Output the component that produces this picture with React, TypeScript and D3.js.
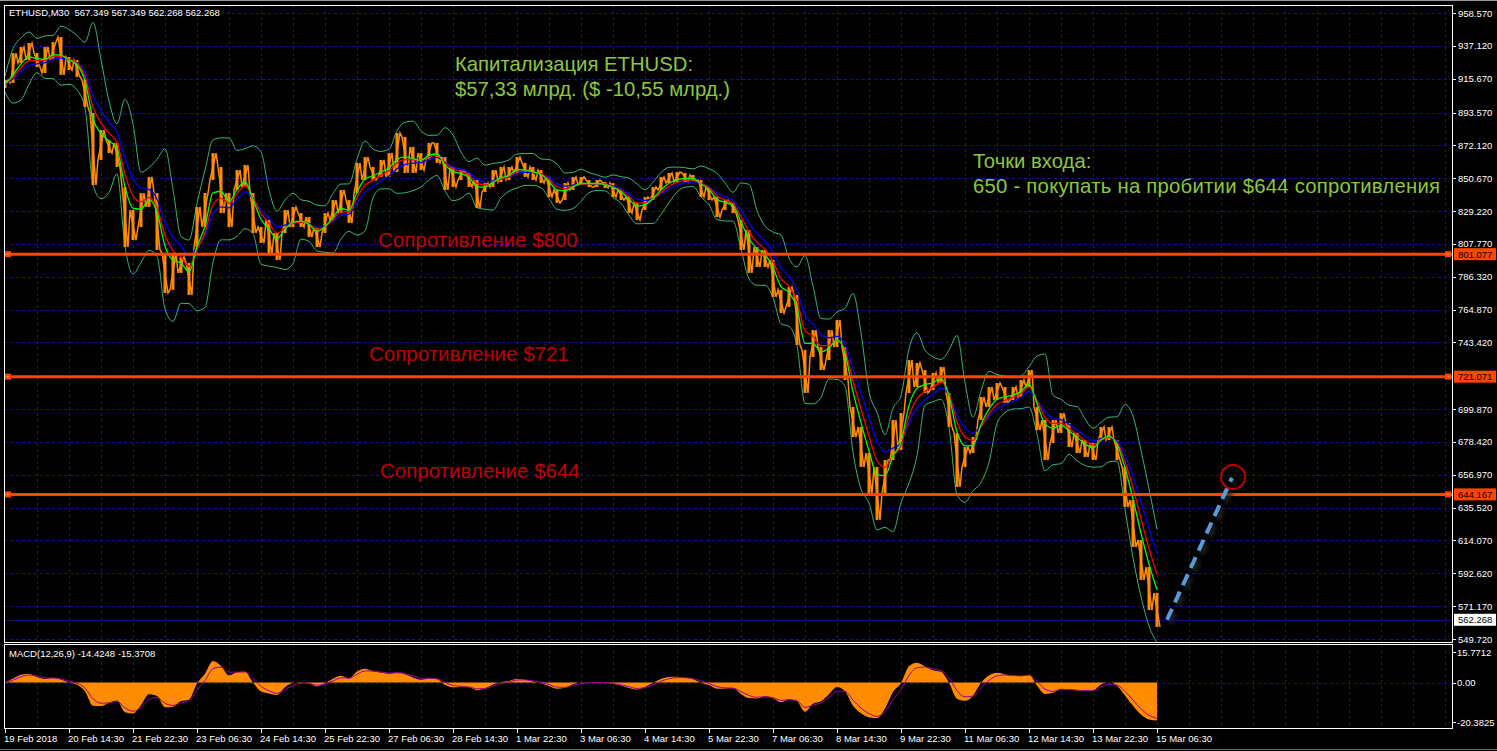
import React from 'react';
import * as d3 from 'd3';

const W = 1497;
const H = 751;

// ETHUSD M30 price ranges, one entry per 8 bars (high / low)
const hiPrices = [
  914.8, 932.4, 936.4, 939.0, 932.4, 936.4, 939.6, 942.9, 929.8, 927.9,
  914.8, 893.3, 882.2, 875.6, 873.7, 844.9, 829.9, 841.0, 851.5, 841.0,
  801.8, 801.8, 799.2, 795.3, 831.9, 841.0, 867.1, 858.0, 841.0, 856.0,
  859.3, 841.0, 818.8, 823.4, 814.9, 829.9, 831.9, 827.9, 825.3, 818.8,
  827.9, 836.4, 843.0, 836.4, 860.6, 864.5, 858.0, 862.6, 867.1, 880.2,
  877.6, 871.1, 867.1, 873.7, 873.7, 864.5, 858.0, 856.0, 854.1, 849.5,
  847.5, 856.0, 858.0, 858.0, 864.5, 860.6, 858.0, 856.0, 851.5, 843.0,
  847.5, 851.5, 851.5, 849.5, 849.5, 848.2, 847.5, 843.0, 838.4, 834.5,
  838.4, 844.9, 851.5, 854.1, 854.7, 854.1, 852.8, 849.5, 844.9, 838.4,
  836.4, 834.5, 823.4, 816.8, 805.7, 803.8, 797.3, 777.7, 779.6, 774.4,
  738.5, 751.5, 740.4, 751.5, 758.1, 740.4, 701.3, 688.2, 671.2, 662.1,
  666.6, 692.8, 697.3, 731.9, 730.0, 725.4, 723.5, 727.4, 710.4, 684.3,
  675.1, 681.7, 707.8, 714.3, 716.9, 714.3, 714.3, 718.9, 725.4, 701.3,
  692.8, 692.8, 697.3, 690.8, 684.3, 679.7, 677.7, 688.2, 688.2, 679.7,
  662.1, 640.5, 614.4, 596.7, 579.8,
];
const loPrices = [
  909.6, 912.9, 925.9, 927.9, 923.3, 919.4, 927.9, 918.1, 921.3, 916.8,
  897.2, 846.2, 862.6, 867.1, 858.0, 805.7, 810.3, 818.8, 831.9, 803.8,
  775.7, 777.7, 788.8, 774.4, 805.7, 818.8, 849.5, 827.9, 818.8, 843.0,
  844.9, 814.9, 808.4, 801.8, 797.3, 814.9, 818.8, 818.8, 812.3, 805.7,
  814.9, 823.4, 827.9, 821.4, 841.0, 849.5, 849.5, 851.5, 851.5, 854.7,
  854.1, 854.1, 856.0, 862.6, 860.6, 843.0, 844.9, 849.5, 844.9, 831.2,
  841.7, 844.9, 848.2, 849.5, 854.1, 851.5, 849.5, 847.5, 838.4, 834.5,
  836.4, 843.0, 846.2, 844.9, 844.9, 844.3, 838.4, 836.4, 827.9, 823.4,
  829.9, 836.4, 843.0, 847.5, 848.2, 848.2, 848.2, 838.4, 836.4, 825.3,
  829.9, 827.9, 803.8, 788.8, 792.7, 792.7, 773.1, 762.6, 766.6, 741.7,
  710.4, 733.9, 725.4, 731.9, 740.4, 718.9, 681.6, 662.1, 645.1, 627.5,
  645.1, 666.6, 673.2, 710.4, 714.3, 710.4, 712.3, 716.9, 688.2, 649.0,
  662.1, 671.2, 692.8, 701.3, 705.8, 703.9, 705.8, 707.8, 714.3, 686.2,
  666.6, 677.7, 684.3, 675.1, 671.2, 668.6, 666.6, 679.7, 679.7, 666.6,
  635.9, 609.8, 588.3, 568.7, 557.6,
];
const BARS_PER_SAMPLE = 8;
const lastClose = 562.268;
const headerText = 'ETHUSD,M30  567.349 567.349 562.268 562.268';
const macdHeader = 'MACD(12,26,9) -14.4248 -15.3708';

const priceTicks = [958.57, 937.12, 915.67, 893.57, 872.12, 850.67, 829.22, 807.77, 786.32, 764.87,
  743.42, 699.87, 678.42, 656.97, 635.52, 614.07, 592.62, 571.17, 549.72];
const levels = [801.077, 721.071, 644.167];
const levelTexts = ['Сопротивление $800', 'Сопротивление $721', 'Сопротивление $644'];
const levelTextBars = [373, 364, 375];
const levelTextPrices = [805.7, 731.3, 654.9];
const timeLabels = ['19 Feb 2018', '20 Feb 14:30', '21 Feb 22:30', '23 Feb 06:30', '24 Feb 14:30',
  '25 Feb 22:30', '27 Feb 06:30', '28 Feb 14:30', '1 Mar 22:30', '3 Mar 06:30', '4 Mar 14:30',
  '5 Mar 22:30', '7 Mar 06:30', '8 Mar 14:30', '9 Mar 22:30', '11 Mar 06:30', '12 Mar 14:30',
  '13 Mar 22:30', '15 Mar 06:30'];
const BARS_PER_LABEL = 64;
const macdTicks = [15.7712, 0, -20.3825];
const maPeriods = [8, 13, 21];
const maColors = ['#00ff00', '#ff0000', '#0000ff'];
const capTitle = ['Капитализация ETHUSD:', '$57,33 млрд. ($ -10,55 млрд.)'];
const entryText = ['Точки входа:', '650 - покупать на пробитии $644 сопротивления'];
const projFrom = { bar: 1162, price: 562.268 };
const projTo = { bar: 1227, price: 655.0 };
const targetCircle = { bar: 1228, price: 655.5 };

const L = 4, R = 1452, MAIN_TOP = 5, MAIN_BOT = 642, M_TOP = 644, M_BOT = 728;
const FONT = '"Liberation Sans", Arial, sans-serif';
const GRID = '#14148c';

function emaLag(vals: number[], periodBars: number, lagScale: number) {
  const lag = ((periodBars - 1) / 2 / BARS_PER_SAMPLE) * lagScale;
  const a = 1 / (1 + lag);
  const out: number[] = [];
  let e = vals[0];
  vals.forEach((v, i) => {
    e = i === 0 ? v : a * v + (1 - a) * e;
    out.push(e);
  });
  return out;
}

export default function App() {
  const x = d3.scaleLinear().domain([0, 1448]).range([5, 1453]);
  const y = d3.scaleLinear().domain([549.72, 958.57]).range([639, 13]);
  const my = d3.scaleLinear().domain([-20.3825, 15.7712]).range([722, 652]);

  const n = hiPrices.length;
  const mids = hiPrices.map((h, i) => (h + loPrices[i]) / 2);
  const bx = (i: number) => x(i * BARS_PER_SAMPLE);

  const mas = maPeriods.map((p) => emaLag(mids, p, 1.8));

  // Bollinger (20 bars ~ 3 samples)
  const upper: number[] = [], lower: number[] = [];
  for (let i = 0; i < n; i++) {
    const s = Math.max(0, i - 2);
    const ms = mids.slice(s, i + 1);
    const mean = d3.mean(ms) as number;
    const vals = [...hiPrices.slice(s, i + 1), ...loPrices.slice(s, i + 1)];
    const sd = Math.sqrt(d3.mean(vals.map((v) => (v - mean) ** 2)) as number);
    upper.push(mean + 2 * sd);
    lower.push(mean - 2 * sd);
  }

  const fast = emaLag(mids, 12, 1.4);
  const slow = emaLag(mids, 26, 1.4);
  const macd = fast.map((f, i) => f - slow[i]);
  const signal = emaLag(macd, 9, 1.3);

  const line = d3.line<number>().x((_, i) => bx(i)).y((v) => y(v)).curve(d3.curveMonotoneX);
  const mline = d3.line<number>().x((_, i) => bx(i)).y((v) => my(v)).curve(d3.curveMonotoneX);
  const marea = d3.area<number>().x((_, i) => bx(i)).y0(my(0)).y1((v) => my(v)).curve(d3.curveMonotoneX);

  // price bars: one stroke per 8-bar range
  let zig = '';
  for (let i = 0; i < n; i++) {
    const xc = bx(i);
    const rising = i === 0 ? true : mids[i] >= mids[i - 1];
    const a = rising ? loPrices[i] : hiPrices[i];
    const b = rising ? hiPrices[i] : loPrices[i];
    zig += `${i === 0 ? 'M' : 'L'}${xc - 3},${y(a)}L${xc + 3},${y(b)}`;
  }
  const ranges = hiPrices.map((h, i) => ({ x: bx(i), y1: y(h), y2: y(loPrices[i]) }));

  const vGrid: number[] = [];
  for (let b = 32; x(b) < R; b += 32) vGrid.push(x(b));

  const priceFmt = (v: number) => v.toFixed(3);

  return (
    <svg width={W} height={H} style={{ position: 'absolute', left: 0, top: 0, display: 'block', background: '#000' }}>
      <rect x={0} y={0} width={W} height={H} fill="#000" />
      <line x1={0} x2={W} y1={0.5} y2={0.5} stroke="#9a9a9a" />
      <line x1={0} x2={W} y1={H - 1.5} y2={H - 1.5} stroke="#6a6a6a" />
      <defs>
        <clipPath id="mainClip"><rect x={L} y={MAIN_TOP} width={R - L} height={MAIN_BOT - MAIN_TOP} /></clipPath>
        <clipPath id="macdClip"><rect x={L} y={M_TOP} width={R - L} height={M_BOT - M_TOP} /></clipPath>
        <filter id="shadow" x="-20%" y="-20%" width="140%" height="140%">
          <feGaussianBlur stdDeviation="2" />
        </filter>
      </defs>

      {/* grids */}
      {priceTicks.map((t) => (
        <line key={'hg' + t} x1={L} x2={R} y1={Math.round(y(t)) + 0.5} y2={Math.round(y(t)) + 0.5} stroke={GRID} strokeDasharray="3,3" />
      ))}
      {vGrid.map((gx) => (
        <g key={'vg' + gx}>
          <line x1={Math.round(gx) + 0.5} x2={Math.round(gx) + 0.5} y1={MAIN_TOP} y2={MAIN_BOT} stroke={GRID} strokeDasharray="3,3" />
          <line x1={Math.round(gx) + 0.5} x2={Math.round(gx) + 0.5} y1={M_TOP} y2={M_BOT} stroke={GRID} strokeDasharray="3,3" />
        </g>
      ))}
      <line x1={L} x2={R} y1={Math.round(my(0)) + 0.5} y2={Math.round(my(0)) + 0.5} stroke={GRID} strokeDasharray="3,3" />

      <g clipPath="url(#mainClip)">
        {/* current price line */}
        <line x1={L} x2={R} y1={Math.round(y(lastClose)) + 0.5} y2={Math.round(y(lastClose)) + 0.5} stroke="#10107a" />
        <path d={line(upper) || ''} fill="none" stroke="#3cb371" strokeWidth={1} />
        <path d={line(lower) || ''} fill="none" stroke="#3cb371" strokeWidth={1} />
        {ranges.map((r, i) => (
          <line key={'rb' + i} x1={r.x} x2={r.x} y1={r.y1} y2={r.y2} stroke="#ff8c00" strokeWidth={3} />
        ))}
        <path d={zig} fill="none" stroke="#ff8c00" strokeWidth={1.5} />
        {mas.slice().reverse().map((m, k) => (
          <path key={'ma' + k} d={line(m) || ''} fill="none" stroke={maColors[maColors.length - 1 - k]} strokeWidth={1.3} />
        ))}
        {levels.map((lv) => (
          <g key={'lv' + lv}>
            <line x1={L} x2={R} y1={y(lv)} y2={y(lv)} stroke="#ff4500" strokeWidth={3} />
            <rect x={L + 1} y={y(lv) - 3} width={6} height={6} fill="#ff4500" />
            <rect x={L + 3.5} y={y(lv) - 0.5} width={1} height={1} fill="#ffffff" />
            <rect x={R - 7} y={y(lv) - 3} width={6} height={6} fill="#ff4500" />
            <rect x={R - 4.5} y={y(lv) - 0.5} width={1} height={1} fill="#ffffff" />
          </g>
        ))}
        {levelTexts.map((t, k) => (
          <text key={'lt' + k} x={x(levelTextBars[k])} y={y(levelTextPrices[k])} fill="#c00000" fontFamily={FONT} fontSize={20.5}>{t}</text>
        ))}
      </g>

      {/* MACD */}
      <g clipPath="url(#macdClip)">
        <path d={marea(macd) || ''} fill="#ff8c00" />
        <path d={mline(signal) || ''} fill="none" stroke="#a000a0" strokeWidth={1} />
      </g>

      {/* frames */}
      <rect x={L + 0.5} y={MAIN_TOP + 0.5} width={R - L} height={MAIN_BOT - MAIN_TOP} fill="none" stroke="#ffffff" />
      <rect x={L + 0.5} y={M_TOP + 0.5} width={R - L} height={M_BOT - M_TOP} fill="none" stroke="#ffffff" />

      {/* price axis */}
      {priceTicks.map((t) => (
        <g key={'pt' + t}>
          <line x1={R} x2={R + 4} y1={Math.round(y(t)) + 0.5} y2={Math.round(y(t)) + 0.5} stroke="#ffffff" />
          <text x={R + 6} y={y(t) + 3.5} fill="#ffffff" fontFamily={FONT} fontSize={9.5}>{priceFmt(t)}</text>
        </g>
      ))}
      {levels.map((lv) => (
        <g key={'pl' + lv}>
          <rect x={R + 2} y={y(lv) - 6} width={42} height={12} fill="#ff4500" />
          <text x={R + 6} y={y(lv) + 3.5} fill="#000000" fontFamily={FONT} fontSize={9.5}>{priceFmt(lv)}</text>
        </g>
      ))}
      <rect x={R + 2} y={y(lastClose) - 6} width={42} height={12} fill="#ffffff" />
      <text x={R + 6} y={y(lastClose) + 3.5} fill="#000000" fontFamily={FONT} fontSize={9.5}>{priceFmt(lastClose)}</text>

      {/* macd axis */}
      {macdTicks.map((t) => (
        <g key={'mt' + t}>
          <line x1={R} x2={R + 4} y1={Math.round(my(t)) + 0.5} y2={Math.round(my(t)) + 0.5} stroke="#ffffff" />
          <text x={R + 5} y={my(t) + 3.5} fill="#ffffff" fontFamily={FONT} fontSize={9.5}>{t === 0 ? '0.00' : String(t)}</text>
        </g>
      ))}

      {/* time axis */}
      {timeLabels.map((t, k) => (
        <g key={'tl' + k}>
          <line x1={Math.round(x(k * BARS_PER_LABEL)) + 0.5} x2={Math.round(x(k * BARS_PER_LABEL)) + 0.5} y1={M_BOT} y2={M_BOT + 5} stroke="#ffffff" />
          <text x={x(k * BARS_PER_LABEL) - 1} y={742} fill="#ffffff" fontFamily={FONT} fontSize={9.5}>{t}</text>
        </g>
      ))}

      {/* headers */}
      <text x={9} y={16} fill="#ffffff" fontFamily={FONT} fontSize={9.5} style={{ whiteSpace: 'pre' }}>{headerText}</text>
      <text x={9} y={657} fill="#ffffff" fontFamily={FONT} fontSize={9.5} style={{ whiteSpace: 'pre' }}>{macdHeader}</text>

      {/* annotations */}
      <text x={455} y={71} fill="#8dc63f" fontFamily={FONT} fontSize={20.3}>{capTitle[0]}</text>
      <text x={455} y={96} fill="#8dc63f" fontFamily={FONT} fontSize={20.3}>{capTitle[1]}</text>
      <text x={973} y={168} fill="#8dc63f" fontFamily={FONT} fontSize={20.3}>{entryText[0]}</text>
      <text x={973} y={193} fill="#8dc63f" fontFamily={FONT} fontSize={20.3} textLength={467}>{entryText[1]}</text>

      {/* projection */}
      <line x1={x(projFrom.bar) + 3} y1={y(projFrom.price) + 4} x2={x(projTo.bar) + 3} y2={y(projTo.price) + 4}
        stroke="#202020" strokeWidth={5} strokeDasharray="12,7" filter="url(#shadow)" />
      <line x1={x(projFrom.bar)} y1={y(projFrom.price)} x2={x(projTo.bar)} y2={y(projTo.price)}
        stroke="#5b9bd5" strokeWidth={4} strokeDasharray="12,7" />
      <circle cx={x(targetCircle.bar)} cy={y(targetCircle.price)} r={12} fill="none" stroke="#c00000" strokeWidth={2} />
    </svg>
  );
}
